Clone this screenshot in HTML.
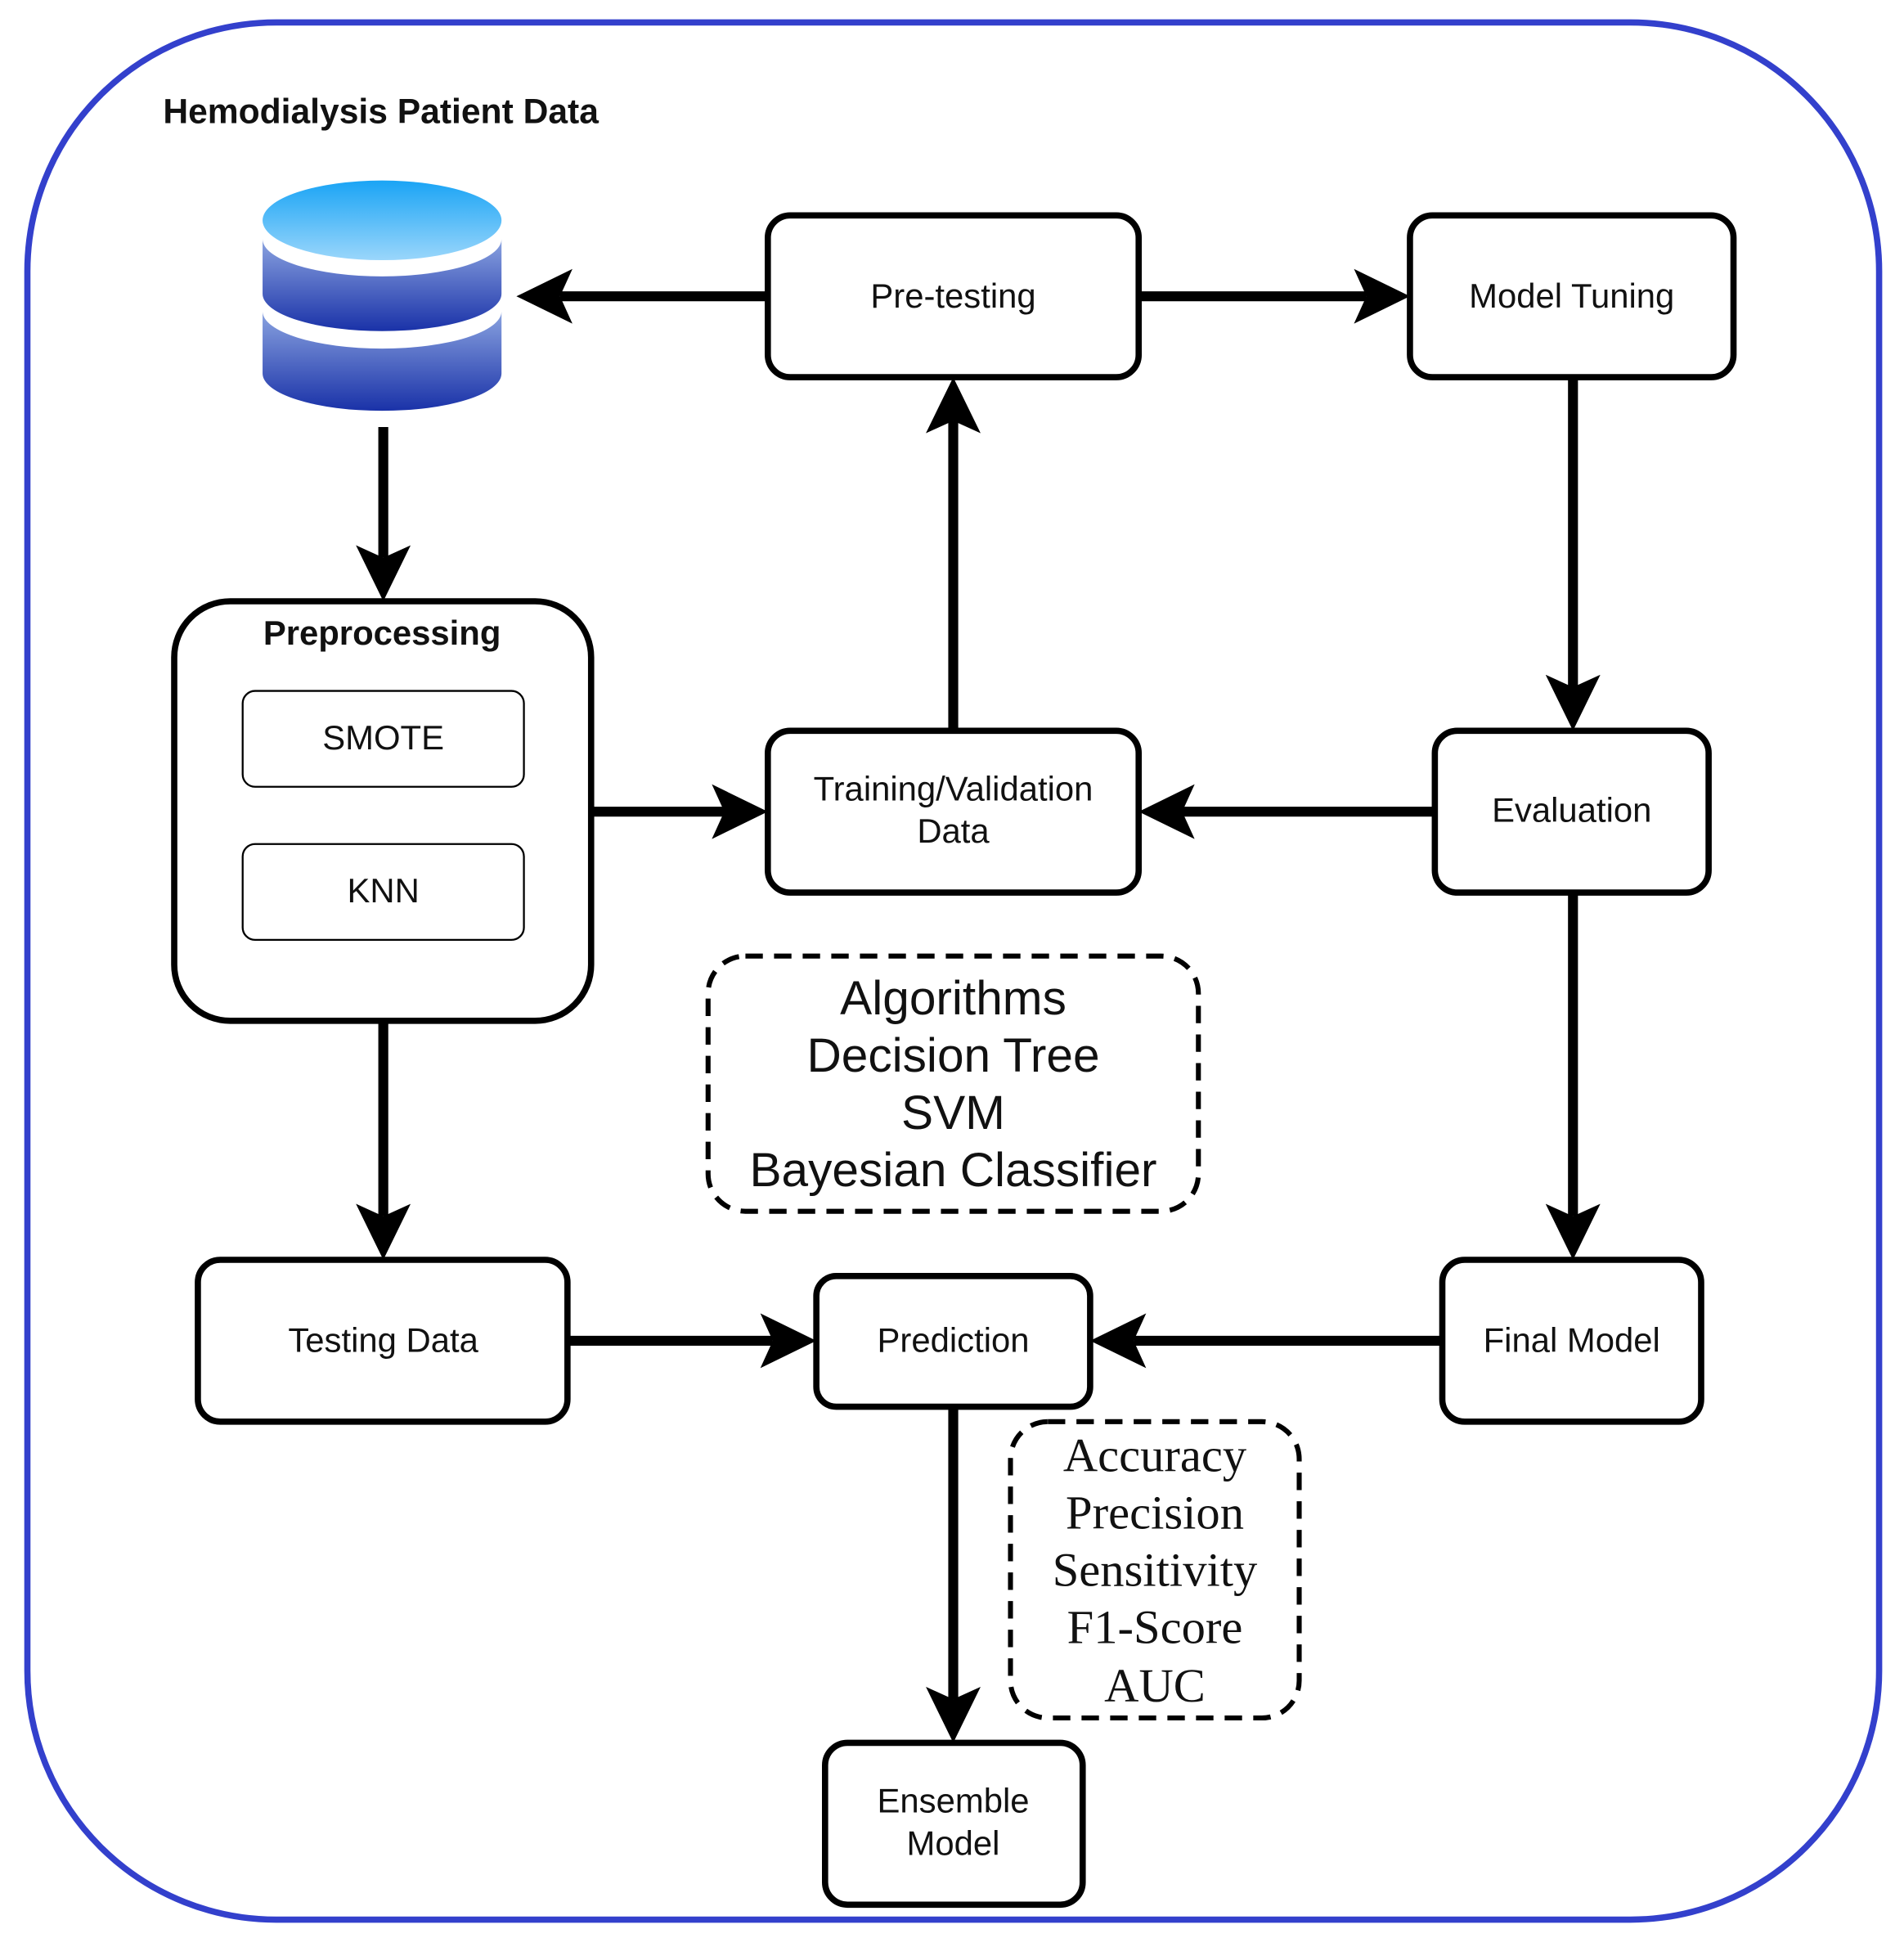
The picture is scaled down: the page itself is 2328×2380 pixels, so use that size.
<!DOCTYPE html>
<html><head><meta charset="utf-8"><style>
html,body{margin:0;padding:0;background:#fff}
svg{display:block}
.s{font-family:"Liberation Sans",sans-serif;fill:#111}
.r{font-family:"Liberation Serif",serif;fill:#111}
</style></head><body>
<svg width="2328" height="2380" viewBox="0 0 1530 1564" preserveAspectRatio="none" xmlns="http://www.w3.org/2000/svg">
<defs>
<marker id="a" markerUnits="userSpaceOnUse" viewBox="0 -22 45 44" markerWidth="45" markerHeight="44" refX="10" refY="0" orient="auto">
<path d="M0,-22 L45,0 L0,22 L10,0 Z" fill="#000"/>
</marker>
<linearGradient id="g1" x1="0" y1="0" x2="0" y2="1"><stop offset="0" stop-color="#1aa4f5"/><stop offset="1" stop-color="#9ad6fb"/></linearGradient>
<linearGradient id="g2" x1="0" y1="0" x2="0" y2="1"><stop offset="0" stop-color="#8aa3e0"/><stop offset="1" stop-color="#1a32a8"/></linearGradient>
</defs>
<rect x="0" y="0" width="1530" height="1564" fill="#fff"/>
<rect x="22" y="18" width="1488" height="1524" rx="200" fill="none" stroke="#3340cc" stroke-width="5"/>
<text x="131" y="99" class="s" font-size="28" font-weight="bold">Hemodialysis Patient Data</text>

<path d="M211,250 L211,300 A96,30 0 0 0 403,300 L403,250 A96,30 0 0 1 211,250 Z" fill="url(#g2)"/>
<path d="M211,192 L211,236 A96,30 0 0 0 403,236 L403,192 A96,30 0 0 1 211,192 Z" fill="url(#g2)"/>
<ellipse cx="307" cy="177" rx="96" ry="32" fill="url(#g1)"/>

<g fill="#fff" stroke="#000" stroke-width="5">
<rect x="617" y="173" width="298" height="130" rx="18"/>
<rect x="1133" y="173" width="260" height="130" rx="18"/>
<rect x="140" y="483" width="335" height="337" rx="45"/>
<rect x="617" y="587" width="298" height="130" rx="18"/>
<rect x="1153" y="587" width="220" height="130" rx="18"/>
<rect x="159" y="1012" width="297" height="130" rx="18"/>
<rect x="656" y="1025" width="220" height="105" rx="16"/>
<rect x="1159" y="1012" width="208" height="130" rx="18"/>
<rect x="663" y="1400" width="207" height="130" rx="18"/>
</g>
<g fill="#fff" stroke="#000" stroke-width="1.5">
<rect x="195" y="555" width="226" height="77" rx="10"/>
<rect x="195" y="678" width="226" height="77" rx="10"/>
</g>
<g fill="none" stroke="#000" stroke-width="4" stroke-dasharray="14,9">
<rect x="569" y="768" width="394" height="205" rx="30"/>
<rect x="812" y="1142" width="232" height="238" rx="30"/>
</g>

<g stroke="#000" stroke-width="8" marker-end="url(#a)">
<line x1="617" y1="238" x2="450" y2="238"/>
<line x1="915" y1="238" x2="1098" y2="238"/>
<line x1="766" y1="587" x2="766" y2="338"/>
<line x1="1264" y1="303" x2="1264" y2="552"/>
<line x1="308" y1="343" x2="308" y2="448"/>
<line x1="475" y1="652" x2="582" y2="652"/>
<line x1="1153" y1="652" x2="950" y2="652"/>
<line x1="1264" y1="717" x2="1264" y2="977"/>
<line x1="308" y1="820" x2="308" y2="977"/>
<line x1="456" y1="1077" x2="621" y2="1077"/>
<line x1="1159" y1="1077" x2="911" y2="1077"/>
<line x1="766" y1="1130" x2="766" y2="1365"/>
</g>

<g class="s" font-size="27.5" text-anchor="middle">
<text x="766" y="247">Pre-testing</text>
<text x="1263" y="247">Model Tuning</text>
<text x="307" y="518" font-weight="bold">Preprocessing</text>
<text x="308" y="602">SMOTE</text>
<text x="308" y="725">KNN</text>
<text x="766" y="643">Training/Validation</text>
<text x="766" y="677">Data</text>
<text x="1263" y="660">Evaluation</text>
<text x="308" y="1086">Testing Data</text>
<text x="766" y="1086">Prediction</text>
<text x="1263" y="1086">Final Model</text>
<text x="766" y="1456">Ensemble</text>
<text x="766" y="1490">Model</text>
</g>
<g class="s" font-size="38.5" text-anchor="middle">
<text x="766" y="815">Algorithms</text>
<text x="766" y="861">Decision Tree</text>
<text x="766" y="907">SVM</text>
<text x="766" y="953">Bayesian Classifier</text>
</g>
<g class="r" font-size="38.5" text-anchor="middle">
<text x="928" y="1182">Accuracy</text>
<text x="928" y="1228">Precision</text>
<text x="928" y="1274">Sensitivity</text>
<text x="928" y="1320">F1-Score</text>
<text x="928" y="1367">AUC</text>
</g>
</svg>
</body></html>
